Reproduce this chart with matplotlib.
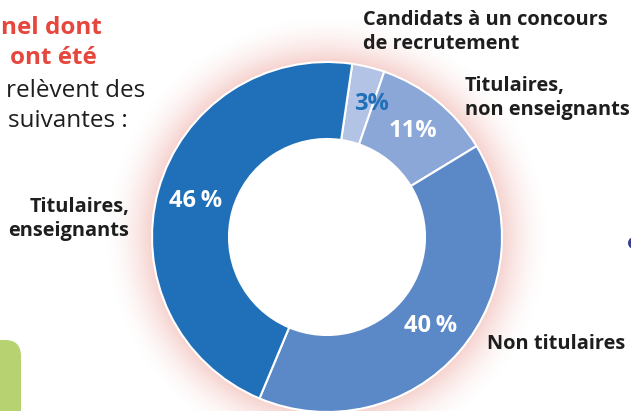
import numpy as np
import matplotlib.pyplot as plt
from matplotlib.patches import FancyBboxPatch, Circle

# Data (clockwise from the top)
categories = ['Candidats à un concours\nde recrutement', 'Titulaires,\nnon enseignants',
              'Non titulaires', 'Titulaires,\nenseignants']
shares = [3, 11, 40, 46]
colors = ['#b2c3e6', '#8aa7d8', '#5b89c8', '#1f70b8']
pct_colors = ['#1f70b8', 'white', 'white', 'white']

W, H = 631, 411
cx, cy, R = 327, H - 237, 175
HOLE = 0.56
FONT = ['Open Sans', 'DejaVu Sans']
DARK = '#1e1e1e'
RED = '#e6473d'

fig = plt.figure(figsize=(W / 100, H / 100), dpi=100)
ax = fig.add_axes([0, 0, 1, 1])

# pink glow behind the donut (ring only, the hole stays white)
yy, xx = np.mgrid[0:H, 0:W]
dist = np.hypot(xx + 0.5 - cx, (H - yy - 0.5) - cy)
t = np.clip((dist - R + 6) / 54.0, 0, 1)
alpha = (1 - t) ** 1.8 * 0.9
alpha[dist < R * HOLE + 2] = 0
glow = np.zeros((H, W, 4))
glow[..., 0] = 0.95
glow[..., 1] = 0.76
glow[..., 2] = 0.74
glow[..., 3] = alpha
ax.imshow(glow, extent=[0, W, 0, H], origin='upper', zorder=0, interpolation='bilinear')

wedges, texts, autotexts = ax.pie(
    shares, colors=colors, center=(cx, cy), radius=R,
    startangle=90 - 8.3, counterclock=False,
    autopct='%d%%', pctdistance=0.78,
    wedgeprops=dict(width=R * (1 - HOLE), edgecolor='white', linewidth=1.5),
    textprops=dict(fontsize=17, fontweight='bold', family=FONT))
for w in wedges:
    w.set_zorder(2)
for txt, c, v in zip(autotexts, pct_colors, shares):
    txt.set_color(c)
    # the two big shares carry a thin gap before the % sign
    txt.set_text(f'{v}\u2009%' if v >= 40 else f'{v}%')
    txt.set_zorder(3)
# the 3% label sits a little to the right in the original
x0, y0 = autotexts[0].get_position()
autotexts[0].set_position((x0 + 12, y0))

# category labels
lab = dict(fontsize=14.4, fontweight='bold', color=DARK, family=FONT, linespacing=1.28)
ax.text(363, H - 10, categories[0], ha='left', va='top', **lab)
ax.text(465, H - 76, categories[1], ha='left', va='top', **lab)
ax.text(487, H - 344, categories[2], ha='left', va='center', **lab)
ax.text(129, H - 197, categories[3], ha='right', va='top', multialignment='right', **lab)

# cropped heading on the left
ax.text(102, H - 28, 'nel dont', ha='right', va='center', fontsize=17.5,
        fontweight='bold', color=RED, family=FONT)
ax.text(97, H - 58, 'ont été', ha='right', va='center', fontsize=17.5,
        fontweight='bold', color=RED, family=FONT)
ax.text(145, H - 91, 'relèvent des', ha='right', va='center', fontsize=17.5,
        color=DARK, family=FONT)
ax.text(128, H - 121, 'suivantes :', ha='right', va='center', fontsize=17.5,
        color=DARK, family=FONT)

# decorative bits cut by the frame
ax.add_patch(FancyBboxPatch((-30, -30), 51, H - 340 + 30, boxstyle='round,pad=0,rounding_size=16',
                            facecolor='#b7d371', edgecolor='none', zorder=1))
ax.add_patch(Circle((634, H - 243), 6, facecolor='#3b3f8f', edgecolor='none', zorder=1))

ax.set_xlim(0, W)
ax.set_ylim(0, H)
ax.set_aspect('equal')
ax.axis('off')

fig.savefig('out.png', dpi=100)
